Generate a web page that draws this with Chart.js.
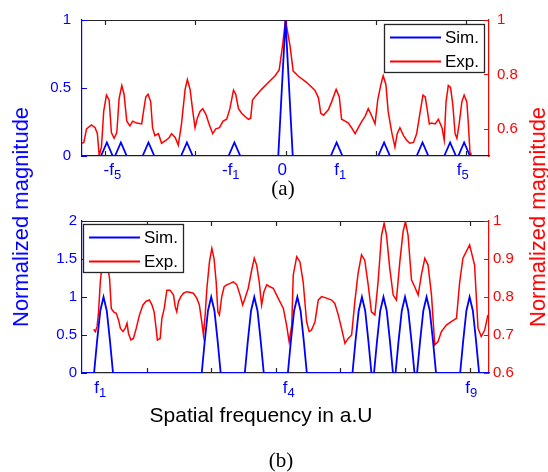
<!DOCTYPE html>
<html>
<head>
<meta charset="utf-8">
<script src="https://cdn.jsdelivr.net/npm/chart.js@4.4.1/dist/chart.umd.min.js"></script>
<style>
  body { margin: 0; background: #fff; }
  #fig { position: relative; width: 548px; height: 472px; overflow: hidden; background: #fff;
         font-family: 'Liberation Sans', Arial, Helvetica, sans-serif; }
  #fig canvas { position: absolute; left: 0; }
  .txt { position: absolute; white-space: nowrap; line-height: 1; }
  .vlab { font-size: 22px; transform: translate(-50%, -50%) rotate(-90deg); }
  .panel { font-family: 'Liberation Serif', 'Times New Roman', serif; font-size: 21px; color: #000;
           transform: translateX(-50%); }
</style>
</head>
<body>
<div id="fig">
  <canvas id="panelA" width="548" height="200" style="top:0"></canvas>
  <canvas id="panelB" width="548" height="272" style="top:200px"></canvas>
  <div class="txt vlab" style="left:21px; top:217px; color:#0000ff">Normalized magnitude</div>
  <div class="txt vlab" style="left:538px; top:217px; color:#ff0000">Normalized magnitude</div>
  <div class="txt" style="left:261px; top:404px; font-size:21px; color:#000; transform:translateX(-50%)">Spatial frequency in a.U</div>
  <div class="txt panel" style="left:283px; top:178px">(a)</div>
  <div class="txt panel" style="left:281px; top:450px">(b)</div>
</div>
<script>
const BLUE = '#0000ff', RED = '#ff0000', AXIS = '#262626';
const FONT = "'Liberation Sans', Arial, Helvetica, sans-serif";
const seriesNames = ['Sim.', 'Exp.'];

// panel (a): simulated spectrum, centre order plus side orders
const simXA = [-4.5, -4.08, -3.95, -3.82, -3.77, -3.64, -3.51, -3.16, -3.03, -2.90, -2.31, -2.18, -2.05,
  -1.26, -1.13, -1.00, -0.16, 0, 0.16, 1.00, 1.13, 1.26, 2.05, 2.18, 2.31, 2.90, 3.03, 3.16,
  3.51, 3.64, 3.77, 3.82, 3.95, 4.08, 4.5];
const simYA = [0, 0, 0.1, 0, 0, 0.1, 0, 0, 0.1, 0, 0, 0.1, 0,
  0, 0.1, 0, 0, 1, 0, 0, 0.1, 0, 0, 0.1, 0, 0, 0.1, 0,
  0, 0.1, 0, 0, 0.1, 0, 0];

// panel (a): measured spectrum
const expXA = [-4.50, -4.46, -4.40, -4.29, -4.21, -4.16, -4.12, -4.07, -4.02, -3.96,
  -3.90, -3.85, -3.79, -3.73, -3.68, -3.62, -3.57, -3.51, -3.44, -3.38,
  -3.29, -3.18, -3.15, -3.09, -3.04, -2.98, -2.94, -2.89, -2.81, -2.74,
  -2.64, -2.57, -2.52, -2.44, -2.37, -2.30, -2.22, -2.17, -2.11, -2.05,
  -2.00, -1.95, -1.89, -1.83, -1.76, -1.69, -1.61, -1.54, -1.46, -1.38,
  -1.30, -1.23, -1.15, -1.10, -1.04, -0.97, -0.90, -0.82, -0.77, -0.73,
  -0.64, -0.53, -0.38, -0.23, -0.14, -0.06, 0.00, 0.10, 0.17, 0.28,
  0.47, 0.65, 0.73, 0.78, 0.84, 0.95, 1.02, 1.12, 1.19, 1.24,
  1.32, 1.39, 1.46, 1.54, 1.61, 1.69, 1.76, 1.83, 1.91, 1.98,
  2.04, 2.11, 2.16, 2.22, 2.27, 2.35, 2.42, 2.47, 2.53, 2.61,
  2.68, 2.75, 2.83, 2.90, 2.98, 3.04, 3.09, 3.14, 3.18, 3.23,
  3.31, 3.38, 3.46, 3.51, 3.55, 3.60, 3.65, 3.70, 3.75, 3.79,
  3.84, 3.90, 3.95, 4.01, 4.04, 4.08, 4.10];
const expYA = [0.547, 0.550, 0.600, 0.614, 0.604, 0.582, 0.501, 0.533, 0.664, 0.724,
  0.706, 0.586, 0.565, 0.586, 0.710, 0.759, 0.727, 0.628, 0.611, 0.628,
  0.621, 0.618, 0.653, 0.717, 0.727, 0.699, 0.604, 0.575, 0.582, 0.547,
  0.558, 0.568, 0.582, 0.568, 0.540, 0.618, 0.745, 0.781, 0.745, 0.664,
  0.604, 0.639, 0.664, 0.674, 0.653, 0.618, 0.582, 0.600, 0.604, 0.628,
  0.635, 0.674, 0.742, 0.727, 0.674, 0.657, 0.646, 0.635, 0.639, 0.706,
  0.724, 0.745, 0.770, 0.795, 0.816, 0.912, 1.000, 0.905, 0.812, 0.794,
  0.770, 0.742, 0.713, 0.657, 0.650, 0.671, 0.699, 0.745, 0.717, 0.635,
  0.628, 0.621, 0.604, 0.582, 0.604, 0.628, 0.646, 0.674, 0.646, 0.618,
  0.706, 0.763, 0.795, 0.763, 0.664, 0.586, 0.533, 0.582, 0.604, 0.575,
  0.558, 0.547, 0.550, 0.582, 0.664, 0.724, 0.717, 0.664, 0.618, 0.621,
  0.618, 0.635, 0.604, 0.558, 0.699, 0.759, 0.752, 0.688, 0.582, 0.565,
  0.618, 0.699, 0.724, 0.699, 0.628, 0.512, 0.500];

const xTicksA = [-4, -2, 0, 2, 4];
const leftTicksA = [0, 0.5, 1];
const rightTicksA = [0.6, 0.8, 1];
const freqTextA = ['-f', '-f', '0', 'f', 'f'];
const freqSubA = ['5', '1', '', '1', '5'];
const freqPosA = [-3.83, -1.21, -0.07, 1.21, 3.92];

// panel (b): simulated spectrum, nine orders f1..f9
const simXB = [0,
  0.56, 0.7, 0.85, 1, 1.15, 1.3, 1.44,
  5.56, 5.7, 5.85, 6, 6.15, 6.3, 6.44,
  7.56, 7.7, 7.85, 8, 8.15, 8.3, 8.44,
  9.56, 9.7, 9.85, 10, 10.15, 10.3, 10.44,
  12.56, 12.7, 12.85, 13, 13.15, 13.3, 13.44,
  13.56, 13.7, 13.85, 14, 14.15, 14.3, 14.44,
  14.56, 14.7, 14.85, 15, 15.15, 15.3, 15.44,
  15.56, 15.7, 15.85, 16, 16.15, 16.3, 16.44,
  17.56, 17.7, 17.85, 18, 18.15, 18.3, 18.44,
  18.9];
const simYB = [0,
  0, 0.42, 0.82, 1, 0.82, 0.42, 0,
  0, 0.42, 0.82, 1, 0.82, 0.42, 0,
  0, 0.42, 0.82, 1, 0.82, 0.42, 0,
  0, 0.42, 0.82, 1, 0.82, 0.42, 0,
  0, 0.42, 0.82, 1, 0.82, 0.42, 0,
  0, 0.42, 0.82, 1, 0.82, 0.42, 0,
  0, 0.42, 0.82, 1, 0.82, 0.42, 0,
  0, 0.42, 0.82, 1, 0.82, 0.42, 0,
  0, 0.42, 0.82, 1, 0.82, 0.42, 0,
  0];

// panel (b): measured spectrum
const expXB = [0.54, 0.62, 0.70, 0.77, 0.85, 0.93, 1.03, 1.16, 1.28, 1.36,
  1.47, 1.59, 1.70, 1.78, 1.90, 2.01, 2.09, 2.16, 2.27, 2.39,
  2.52, 2.67, 2.83, 2.98, 3.13, 3.25, 3.35, 3.44, 3.50, 3.63,
  3.71, 3.82, 3.94, 4.09, 4.25, 4.33, 4.40, 4.48, 4.59, 4.71,
  4.87, 5.05, 5.17, 5.33, 5.45, 5.56, 5.64, 5.72, 5.80, 5.92,
  6.03, 6.13, 6.23, 6.31, 6.38, 6.49, 6.60, 6.72, 6.88, 7.03,
  7.19, 7.34, 7.46, 7.57, 7.72, 7.88, 8.00, 8.11, 8.23, 8.34,
  8.45, 8.58, 8.73, 8.88, 9.04, 9.19, 9.35, 9.50, 9.62, 9.74,
  9.81, 9.97, 10.12, 10.27, 10.43, 10.55, 10.66, 10.82, 10.97, 11.13,
  11.36, 11.59, 11.74, 11.90, 12.05, 12.21, 12.36, 12.52, 12.67, 12.82,
  12.98, 13.13, 13.29, 13.44, 13.60, 13.75, 13.91, 14.03, 14.14, 14.29,
  14.45, 14.60, 14.76, 14.91, 15.02, 15.14, 15.30, 15.45, 15.61, 15.76,
  15.92, 16.07, 16.23, 16.38, 16.53, 16.69, 16.92, 17.15, 17.39, 17.54,
  17.69, 18.00, 18.23, 18.39, 18.54, 18.70, 18.85];
const expYB = [0.715, 0.709, 0.722, 0.761, 0.840, 0.884, 0.902, 0.893, 0.849, 0.770,
  0.761, 0.757, 0.739, 0.718, 0.709, 0.718, 0.731, 0.704, 0.687, 0.691,
  0.718, 0.753, 0.779, 0.789, 0.792, 0.779, 0.761, 0.718, 0.687, 0.691,
  0.744, 0.770, 0.818, 0.818, 0.805, 0.774, 0.761, 0.788, 0.801, 0.810,
  0.814, 0.812, 0.810, 0.797, 0.779, 0.735, 0.700, 0.753, 0.823, 0.893,
  0.928, 0.902, 0.840, 0.761, 0.753, 0.801, 0.827, 0.832, 0.836, 0.840,
  0.832, 0.805, 0.779, 0.797, 0.823, 0.871, 0.902, 0.884, 0.840, 0.779,
  0.814, 0.832, 0.827, 0.823, 0.805, 0.788, 0.770, 0.726, 0.682, 0.726,
  0.858, 0.906, 0.893, 0.840, 0.735, 0.709, 0.713, 0.735, 0.792, 0.801,
  0.797, 0.792, 0.783, 0.753, 0.718, 0.678, 0.691, 0.700, 0.788, 0.862,
  0.911, 0.897, 0.832, 0.761, 0.753, 0.840, 0.963, 0.994, 0.963, 0.876,
  0.805, 0.792, 0.893, 0.972, 0.998, 0.963, 0.845, 0.827, 0.805, 0.858,
  0.902, 0.884, 0.805, 0.674, 0.682, 0.709, 0.726, 0.735, 0.744, 0.840,
  0.902, 0.937, 0.884, 0.718, 0.696, 0.713, 0.753];

const xTicksB = [3, 6, 9, 12, 15, 18];
const leftTicksB = [0, 0.5, 1, 1.5, 2];
const rightTicksB = [0.6, 0.7, 0.8, 0.9, 1];
const freqTextB = ['f', 'f', 'f'];
const freqSubB = ['1', '4', '9'];
const freqPosB = [0.85, 9.6, 18.08];

function pts(xs, ys) {
  return xs.map((x, i) => ({ x: x, y: ys[i] }));
}

// box frame: dark top edge and inward ticks on all four sides
function axisFrame(p) {
  return {
    id: 'axisFrame',
    beforeDatasetsDraw(chart) {
      const { ctx, chartArea: a, scales } = chart;
      ctx.save();
      ctx.lineWidth = 1.2;
      ctx.strokeStyle = AXIS;
      ctx.beginPath();
      ctx.moveTo(a.left, a.top + 0.5);
      ctx.lineTo(a.right, a.top + 0.5);
      p.xTicks.forEach(v => {
        const x = Math.round(scales.x.getPixelForValue(v)) + 0.5;
        ctx.moveTo(x, a.top);
        ctx.lineTo(x, a.top + 5);
        ctx.moveTo(x, a.bottom);
        ctx.lineTo(x, a.bottom - 5);
      });
      ctx.stroke();
      ctx.strokeStyle = BLUE;
      ctx.beginPath();
      p.leftTicks.forEach(v => {
        const y = Math.round(scales.y.getPixelForValue(v)) + 0.5;
        ctx.moveTo(a.left, y);
        ctx.lineTo(a.left + 5, y);
      });
      ctx.stroke();
      ctx.strokeStyle = RED;
      ctx.beginPath();
      p.rightTicks.forEach(v => {
        const y = Math.round(scales.y2.getPixelForValue(v)) + 0.5;
        ctx.moveTo(a.right, y);
        ctx.lineTo(a.right - 5, y);
      });
      ctx.stroke();
      ctx.restore();
    }
  };
}

// order labels under the axis, e.g. f with a subscript index
function freqLabels(p) {
  return {
    id: 'freqLabels',
    afterDraw(chart) {
      const ctx = chart.ctx, xs = chart.scales.x;
      const base = chart.chartArea.bottom + p.labelDrop;
      ctx.save();
      ctx.fillStyle = BLUE;
      ctx.textBaseline = 'alphabetic';
      ctx.textAlign = 'left';
      p.freqPos.forEach((v, i) => {
        ctx.font = '17px ' + FONT;
        const w1 = ctx.measureText(p.freqText[i]).width;
        ctx.font = '13px ' + FONT;
        const w2 = p.freqSub[i] ? ctx.measureText(p.freqSub[i]).width : 0;
        const x0 = xs.getPixelForValue(v) - (w1 + w2) / 2;
        ctx.font = '17px ' + FONT;
        ctx.fillText(p.freqText[i], x0, base);
        if (p.freqSub[i]) {
          ctx.font = '13px ' + FONT;
          ctx.fillText(p.freqSub[i], x0 + w1, base + 4);
        }
      });
      ctx.restore();
    }
  };
}

// boxed legend inside the axes
function boxLegend(p) {
  return {
    id: 'boxLegend',
    afterDatasetsDraw(chart) {
      const ctx = chart.ctx, a = chart.chartArea;
      const w = 100, h = 48;
      const left = p.legendRight ? a.right - 5 - w : a.left + 1;
      const top = a.top + p.legendTop;
      ctx.save();
      ctx.fillStyle = '#fff';
      ctx.fillRect(left, top, w, h);
      ctx.lineWidth = 1.3;
      ctx.strokeStyle = AXIS;
      ctx.strokeRect(left + 0.5, top + 0.5, w, h);
      chart.data.datasets.forEach((ds, i) => {
        const y = top + 13.5 + i * 24;
        ctx.strokeStyle = ds.borderColor;
        ctx.lineWidth = 1.8;
        ctx.beginPath();
        ctx.moveTo(left + 6, y);
        ctx.lineTo(left + 57, y);
        ctx.stroke();
        ctx.fillStyle = '#000';
        ctx.font = '17px ' + FONT;
        ctx.textBaseline = 'middle';
        ctx.fillText(ds.label, left + 61, y + 1);
      });
      ctx.restore();
    }
  };
}

function makePanel(id, p) {
  return new Chart(document.getElementById(id), {
    type: 'line',
    data: {
      datasets: [
        { label: seriesNames[0], data: pts(p.simX, p.simY), yAxisID: 'y',
          borderColor: BLUE, borderWidth: 1.8, pointRadius: 0, tension: 0 },
        { label: seriesNames[1], data: pts(p.expX, p.expY), yAxisID: 'y2',
          borderColor: RED, borderWidth: 1.5, pointRadius: 0, tension: 0 }
      ]
    },
    options: {
      responsive: false,
      animation: false,
      events: [],
      layout: { padding: p.pad },
      plugins: { legend: { display: false }, tooltip: { enabled: false } },
      scales: {
        x: {
          type: 'linear', min: p.xMin, max: p.xMax,
          grid: { display: false, drawTicks: false },
          ticks: { display: false },
          border: { color: AXIS, width: 1.2 },
          afterFit: s => { s.height = 0; }
        },
        y: {
          position: 'left', min: p.yMin, max: p.yMax,
          afterBuildTicks: s => { s.ticks = p.leftTicks.map(v => ({ value: v })); },
          grid: { display: false, drawTicks: false },
          border: { color: BLUE, width: 1.2 },
          ticks: { color: BLUE, padding: p.leftPad, font: { family: FONT, size: 15 }, callback: v => String(v) },
          afterFit: s => { s.width = p.leftWidth; }
        },
        y2: {
          position: 'right', min: p.y2Min, max: p.y2Max,
          afterBuildTicks: s => { s.ticks = p.rightTicks.map(v => ({ value: v })); },
          grid: { display: false, drawTicks: false },
          border: { color: RED, width: 1.2 },
          ticks: { color: RED, padding: p.rightPad, font: { family: FONT, size: 15 }, callback: v => String(v) },
          afterFit: s => { s.width = p.rightWidth; }
        }
      }
    },
    plugins: [axisFrame(p), freqLabels(p), boxLegend(p)]
  });
}

makePanel('panelA', {
  simX: simXA, simY: simYA, expX: expXA, expY: expYA,
  xMin: -4.5, xMax: 4.5, yMin: 0, yMax: 1, y2Min: 0.5, y2Max: 1,
  xTicks: xTicksA, leftTicks: leftTicksA, rightTicks: rightTicksA,
  freqText: freqTextA, freqSub: freqSubA, freqPos: freqPosA,
  pad: { left: 0, right: 0, top: 15, bottom: 44 },
  leftWidth: 82, rightWidth: 59,
  leftPad: 11, rightPad: 8, labelDrop: 19,
  legendRight: true, legendTop: 4
});

makePanel('panelB', {
  simX: simXB, simY: simYB, expX: expXB, expY: expYB,
  xMin: 0, xMax: 18.9, yMin: 0, yMax: 2, y2Min: 0.6, y2Max: 1,
  xTicks: xTicksB, leftTicks: leftTicksB, rightTicks: rightTicksB,
  freqText: freqTextB, freqSub: freqSubB, freqPos: freqPosB,
  pad: { left: 0, right: 0, top: 21, bottom: 99 },
  leftWidth: 82, rightWidth: 59,
  leftPad: 5, rightPad: 4, labelDrop: 20,
  legendRight: false, legendTop: 3
});
</script>
</body>
</html>
